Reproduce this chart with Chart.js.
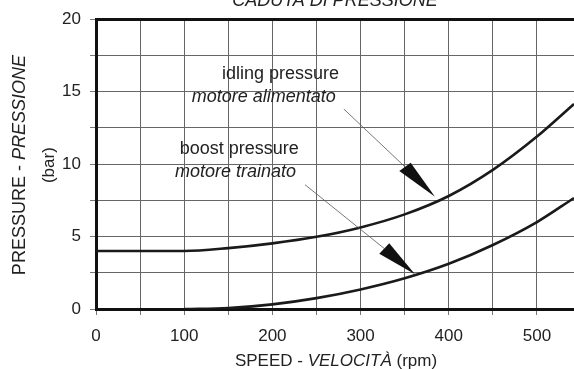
<!DOCTYPE html>
<html>
<head>
<meta charset="utf-8">
<script src="https://cdn.jsdelivr.net/npm/chart.js@4/dist/chart.umd.min.js"></script>
<style>
  html, body { margin: 0; padding: 0; background: #fff; }
  #wrap { width: 574px; height: 369px; position: relative; }
</style>
</head>
<body>
<div id="wrap"><canvas id="c" width="574" height="369"></canvas></div>
<script>
// Speed (rpm) and pressure (bar) readings for the two curves
const idlingSpeed = [0, 50, 100, 150, 200, 250, 300, 350, 400, 450, 500, 542];
const idlingPressure = [4.0, 4.0, 4.0, 4.2, 4.53, 4.98, 5.63, 6.53, 7.8, 9.6, 11.9, 14.15];
const boostSpeed = [100, 150, 200, 250, 300, 350, 400, 450, 500, 542];
const boostPressure = [0, 0.07, 0.32, 0.75, 1.35, 2.12, 3.12, 4.42, 6.0, 7.66];

// Axis ranges and labelled tick steps
const speedRange = [0, 542];
const pressureRange = [0, 20];
const speedGridStep = 50, speedLabelStep = 100;
const pressureGridStep = 2.5, pressureLabelStep = 5;

// Texts
const chartTitle = 'CADUTA DI PRESSIONE';
const xTitle = [['SPEED - ', false], ['VELOCITÀ', true], [' (rpm)', false]];
const yTitle = [['PRESSURE - ', false], ['PRESSIONE', true]];
const yUnit = '(bar)';
const idlingLabel = ['idling pressure', 'motore alimentato'];
const boostLabel = ['boost pressure', 'motore trainato'];

// Callout placement, in axis units (rpm, bar)
const callouts = [
  { lines: idlingLabel, textAt: [[275.5, 16.2], [272, 14.6]],
    from: [281, 13.8], base: [[343.9, 9.53], [356.8, 10.09]], tip: [384.4, 7.75] },
  { lines: boostLabel, textAt: [[230, 11.05], [226.8, 9.48]],
    from: [237, 8.58], base: [[321.2, 3.82], [332.5, 4.53]], tip: [361.7, 2.4] }
];

const FONT = "'Liberation Sans', Arial, Helvetica, sans-serif";
const INK = '#222';

function toPoints(xs, ys) { return xs.map((x, i) => ({ x, y: ys[i] })); }

function drawRuns(ctx, runs, size, x, y, align) {
  let total = 0;
  runs.forEach(([t, it]) => { ctx.font = (it ? 'italic ' : '') + size + 'px ' + FONT; total += ctx.measureText(t).width; });
  let cx = align === 'center' ? x - total / 2 : x;
  ctx.textAlign = 'left';
  runs.forEach(([t, it]) => {
    ctx.font = (it ? 'italic ' : '') + size + 'px ' + FONT;
    ctx.fillText(t, cx, y);
    cx += ctx.measureText(t).width;
  });
}

const decorations = {
  id: 'decorations',
  afterDatasetsDraw(chart) {
    const { ctx, chartArea, scales } = chart;
    const sx = v => scales.x.getPixelForValue(v);
    const sy = v => scales.y.getPixelForValue(v);
    ctx.save();
    ctx.fillStyle = INK;
    ctx.textBaseline = 'middle';

    // callouts: labels, leader lines and arrowheads
    callouts.forEach(c => {
      ctx.textAlign = 'right';
      ctx.font = '18px ' + FONT;
      ctx.fillText(c.lines[0], sx(c.textAt[0][0]), sy(c.textAt[0][1]));
      ctx.font = 'italic 18px ' + FONT;
      ctx.fillText(c.lines[1], sx(c.textAt[1][0]), sy(c.textAt[1][1]));

      const bx = (sx(c.base[0][0]) + sx(c.base[1][0])) / 2;
      const by = (sy(c.base[0][1]) + sy(c.base[1][1])) / 2;
      ctx.strokeStyle = '#555';
      ctx.lineWidth = 0.8;
      ctx.beginPath();
      ctx.moveTo(sx(c.from[0]), sy(c.from[1]));
      ctx.lineTo(bx, by);
      ctx.stroke();

      ctx.fillStyle = '#111';
      ctx.beginPath();
      ctx.moveTo(sx(c.base[0][0]), sy(c.base[0][1]));
      ctx.lineTo(sx(c.base[1][0]), sy(c.base[1][1]));
      ctx.lineTo(sx(c.tip[0]), sy(c.tip[1]));
      ctx.closePath();
      ctx.fill();
      ctx.fillStyle = INK;
    });

    // chart title, partly above the canvas
    ctx.textBaseline = 'alphabetic';
    drawRuns(ctx, [[chartTitle, true]], 18, (chartArea.left + chartArea.right) / 2, 6, 'center');

    // x axis title
    ctx.textBaseline = 'middle';
    drawRuns(ctx, xTitle, 17, (chartArea.left + chartArea.right) / 2 + 1, 361, 'center');

    // y axis title (rotated)
    const cy = (chartArea.top + chartArea.bottom) / 2 + 1;
    ctx.save();
    ctx.translate(20, cy);
    ctx.rotate(-Math.PI / 2);
    drawRuns(ctx, yTitle, 18, 0, 0, 'center');
    ctx.restore();
    ctx.save();
    ctx.translate(49, cy);
    ctx.rotate(-Math.PI / 2);
    drawRuns(ctx, [[yUnit, false]], 17, 0, 0, 'center');
    ctx.restore();

    ctx.restore();
  }
};

new Chart(document.getElementById('c'), {
  type: 'line',
  data: {
    datasets: [
      { label: 'idling pressure', data: toPoints(idlingSpeed, idlingPressure) },
      { label: 'boost pressure', data: toPoints(boostSpeed, boostPressure) }
    ]
  },
  options: {
    responsive: false,
    animation: false,
    events: [],
    layout: { padding: { top: 14, right: 0, left: 0, bottom: 0 } },
    elements: {
      line: { borderColor: '#1a1a1a', borderWidth: 2.6, cubicInterpolationMode: 'monotone', fill: false },
      point: { radius: 0 }
    },
    plugins: { legend: { display: false }, title: { display: false }, tooltip: { enabled: false } },
    scales: {
      x: {
        type: 'linear',
        min: speedRange[0], max: speedRange[1],
        afterFit(s) { s.height = 60; },
        border: { color: '#111', width: 3 },
        grid: { color: '#666', lineWidth: 1, tickLength: 6, tickColor: '#777', tickWidth: 1 },
        ticks: {
          stepSize: speedGridStep, includeBounds: false, padding: 11, maxRotation: 0, autoSkip: false,
          color: INK, font: { family: FONT, size: 17 },
          callback: v => (v % speedLabelStep === 0 ? String(v) : '')
        }
      },
      y: {
        type: 'linear',
        min: pressureRange[0], max: pressureRange[1],
        afterFit(s) { s.width = 96; },
        border: { color: '#111', width: 3 },
        grid: {
          color: c => (c.tick && c.tick.value === pressureRange[1] ? '#111' : '#666'),
          lineWidth: c => (c.tick && c.tick.value === pressureRange[1] ? 3 : 1),
          tickLength: 6, tickColor: '#777', tickWidth: 1
        },
        ticks: {
          stepSize: pressureGridStep, padding: 9, autoSkip: false,
          color: INK, font: { family: FONT, size: 17 },
          callback: v => (v % pressureLabelStep === 0 ? String(v) : '')
        }
      }
    }
  },
  plugins: [decorations]
});
</script>
</body>
</html>
